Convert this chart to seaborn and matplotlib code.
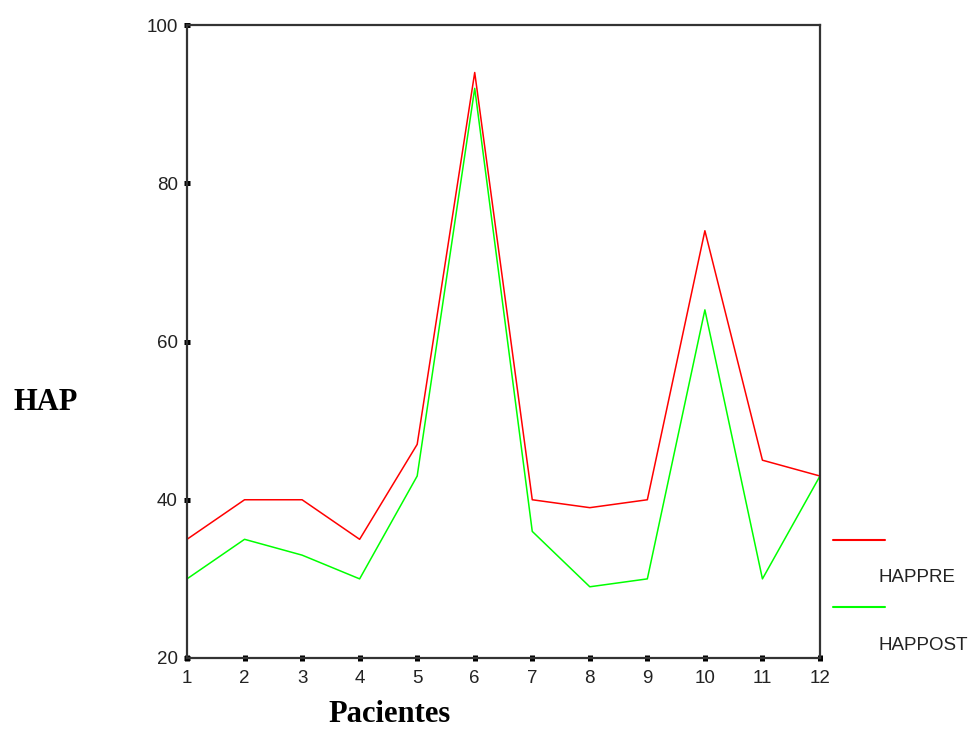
import pandas as pd
import seaborn as sns
import matplotlib.pyplot as plt
from matplotlib.lines import Line2D

# values
pacientes = [1, 2, 3, 4, 5, 6, 7, 8, 9, 10, 11, 12]
happre = [35, 40, 40, 35, 47, 94, 40, 39, 40, 74, 45, 43]
happost = [30, 35, 33, 30, 43, 92, 36, 29, 30, 64, 30, 43]
series_names = ["HAPPRE", "HAPPOST"]
series_colors = ["#ff0000", "#00ff00"]
y_ticks = [20, 40, 60, 80, 100]

df = pd.DataFrame({"Pacientes": pacientes, "HAPPRE": happre, "HAPPOST": happost})
long_df = df.melt(id_vars="Pacientes", var_name="serie", value_name="HAP")

sns.set_style("white")
plt.rcParams["font.family"] = ["Liberation Sans", "DejaVu Sans"]

fig = plt.figure(figsize=(9.75, 7.32), dpi=100)
ax = fig.add_axes([0.1918, 0.1011, 0.6492, 0.8647])

sns.lineplot(data=long_df, x="Pacientes", y="HAP", hue="serie",
             hue_order=series_names, palette=series_colors,
             linewidth=1.1, legend=False, ax=ax)

ax.set_xlim(1, 12)
ax.set_ylim(20, 100)
ax.set_xticks(pacientes)
ax.set_yticks(y_ticks)
ax.tick_params(bottom=True, left=True, direction="inout", length=5, width=3.6,
               color="black", labelsize=13.5, labelcolor="#222222", pad=4)
ax.tick_params(axis="x", pad=6)
for s in ax.spines.values():
    s.set_visible(True)
    s.set_color("#333333")
    s.set_linewidth(1.6)

ax.set_xlabel("")
ax.set_ylabel("")
fig.text(46 / 975, 1 - 402 / 732, "HAP", family="Liberation Serif", fontweight="bold",
         fontsize=22, color="black", ha="center", va="center")
fig.text(390 / 975, 1 - 714 / 732, "Pacientes", family="Liberation Serif", fontweight="bold",
         fontsize=22, color="black", ha="center", va="center")

# legend drawn in the original style: line, then label below
for i, (name, col) in enumerate(zip(series_names, series_colors)):
    y0 = 1 - (540 + i * 67) / 732
    fig.add_artist(Line2D([833 / 975, 885 / 975], [y0, y0], color=col,
                          linewidth=1.5, transform=fig.transFigure))
    fig.text(878 / 975, y0 - 38 / 732, name, fontsize=13.5, color="#222222",
             ha="left", va="center")

fig.savefig("out.png", dpi=100)
